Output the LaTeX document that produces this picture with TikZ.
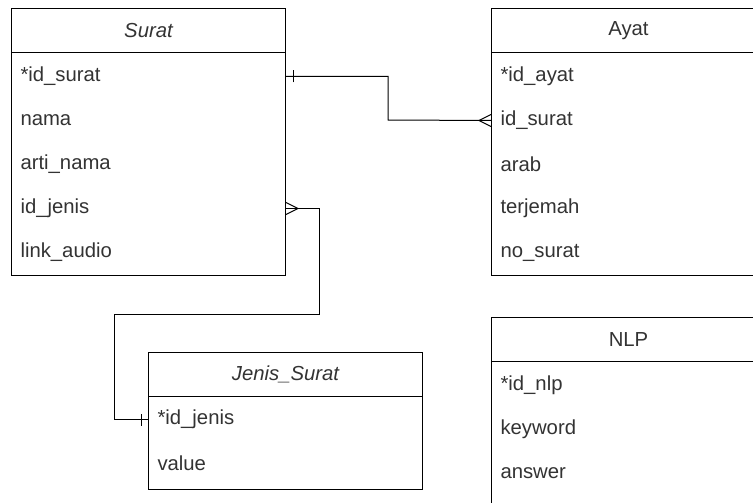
\documentclass[tikz,border=0pt]{standalone}
\usepackage{fontspec}
\setmainfont{Liberation Sans}
\definecolor{txt}{HTML}{333333}
\begin{document}
\begin{tikzpicture}[x=1pt,y=-1pt,
  line width=1pt,
  tfont/.style={font=\fontsize{20.3}{23}\selectfont, text=txt},
  hdr/.style={draw, tfont, minimum width=274pt, minimum height=44pt, inner sep=0pt, anchor=north west},
  tbody/.style={draw, minimum width=274pt, inner sep=0pt, anchor=north west},
  row/.style={tfont, minimum width=274pt, minimum height=44pt, inner sep=0pt, text width=256pt, align=left, anchor=north west}]
\useasboundingbox (0,0) rectangle (753,503);
\clip (0,0) rectangle (753,503);
\fill[white] (0,0) rectangle (753,503);
% Surat
\node[hdr] (surat) at (11,8) {\itshape Surat};
\node[tbody, minimum height=223pt] (suratb) at (11,52) {};
\node[row] (s1) at (11,54) {*id\_surat};
\node[row] (s2) at (11,98) {nama};
\node[row] (s3) at (11,142) {arti\_nama};
\node[row] (s4) at (11,186) {id\_jenis};
\node[row] (s5) at (11,230) {link\_audio};
% Ayat
\node[hdr] (ayat) at (491,8) {Ayat};
\node[tbody, minimum height=223pt] (ayatb) at (491,52) {};
\node[row] (a1) at (491,54) {*id\_ayat};
\node[row] (a2) at (491,98) {id\_surat};
\node[row] (a3) at (491,142) {arab};
\node[row] (a4) at (491,186) {terjemah};
\node[row] (a5) at (491,230) {no\_surat};
% Jenis_Surat
\node[hdr] (jenis) at (148,352) {\itshape Jenis\_Surat};
\node[tbody, minimum height=93pt] (jenisb) at (148,396) {};
\node[row] (j1) at (148,397) {*id\_jenis};
\node[row] (j2) at (148,441) {value};
% NLP
\node[hdr] (nlp) at (491,317) {NLP};
\node[tbody, minimum height=200pt] (nlpb) at (491,361) {};
\node[row] (n1) at (491,363) {*id\_nlp};
\node[row] (n2) at (491,407) {keyword};
\node[row] (n3) at (491,451) {answer};
% Surat -- Ayat
\draw (s1.east) -| (388,120) -- (a2.west);
\draw ([xshift=7pt,yshift=-6pt]s1.east) -- ([xshift=7pt,yshift=6pt]s1.east);
\draw ([xshift=-12pt]a2.west) -- ([yshift=6pt]a2.west);
\draw ([xshift=-12pt]a2.west) -- ([yshift=-6pt]a2.west);
% Surat -- Jenis_Surat
\draw (s4.east) -| (319,314) -- (114,314) |- (j1.west);
\draw ([xshift=12pt]s4.east) -- ([yshift=6pt]s4.east);
\draw ([xshift=12pt]s4.east) -- ([yshift=-6pt]s4.east);
\draw ([xshift=-7pt,yshift=-6pt]j1.west) -- ([xshift=-7pt,yshift=6pt]j1.west);
\end{tikzpicture}
\end{document}
